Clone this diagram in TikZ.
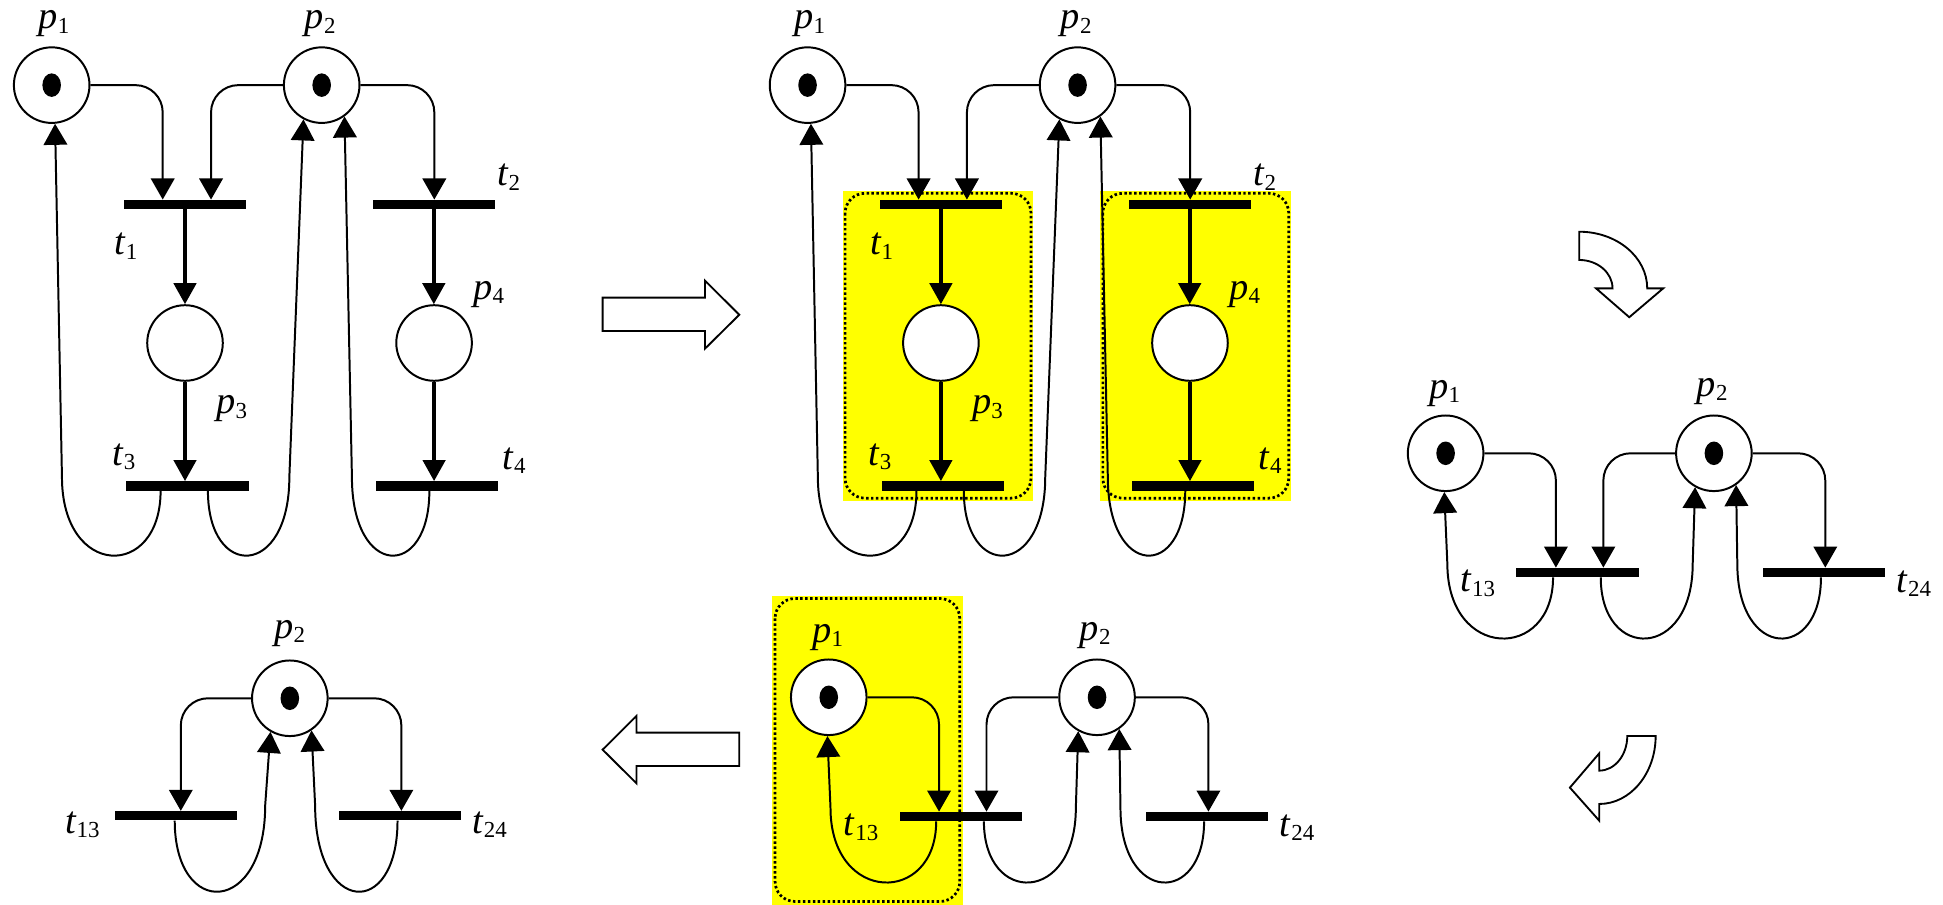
\documentclass[tikz,border=0pt]{standalone}
\usepackage{fontspec}
\setmainfont{Liberation Serif}
\usetikzlibrary{arrows.meta,shapes.geometric}
\definecolor{hiyellow}{RGB}{255,255,0}

\newcommand\plab[2]{{\fontsize{31}{31}\selectfont\textit{#1}\raisebox{-3.5pt}{\fontsize{18.5}{18.5}\selectfont #2}}}

\tikzset{
  place/.style={circle, draw, line width=1.6pt, fill=white, minimum size=61pt, inner sep=0pt},
  tokendot/.style={ellipse, fill=black, minimum width=15pt, minimum height=19pt, inner sep=0pt},
  bar/.style={rectangle, fill=black, minimum width=98.5pt, minimum height=7.5pt, inner sep=0pt},
  flow/.style={line width=1.6pt, -{Triangle[length=17pt,width=19pt]}},
  heavyflow/.style={line width=3pt, -{Triangle[length=17pt,width=18pt]}},
  lbl/.style={inner sep=0pt},
  hilite/.style={fill=hiyellow},
  dotborder/.style={draw=black, line width=2.2pt, dash pattern=on 2pt off 2pt, rounded corners=16pt},
  blockarrow/.style={draw, line width=1.5pt, fill=white, line join=miter}
}

% net with four places (left top and middle top)
\newcommand\netA[1]{%
  \node[place] (#1p1) at (41.7,68.7) {};
  \node[place] (#1p2) at (259.6,68.7) {};
  \node[tokendot] (#1k1) at (#1p1) {};
  \node[tokendot] (#1k2) at (#1p2) {};
  \node[bar] (#1t1) at (149.3,165) {};
  \node[bar] (#1t2) at (350.1,165) {};
  \node[place] (#1p3) at (149.3,276.8) {};
  \node[place] (#1p4) at (350.3,276.8) {};
  \node[bar] (#1t3) at (151.3,392.2) {};
  \node[bar] (#1t4) at (352.5,392.2) {};
  \node[lbl] (#1lp1) at (43.5,19.4) {\plab{p}{1}};
  \node[lbl] (#1lp2) at (258.5,19.4) {\plab{p}{2}};
  \node[lbl] (#1lt1) at (101.5,198.6) {\plab{t}{1}};
  \node[lbl] (#1lp3) at (187,330) {\plab{p}{3}};
  \node[lbl] (#1lt3) at (100,368.8) {\plab{t}{3}};
  \node[lbl] (#1lt2) at (410.5,143) {\plab{t}{2}};
  \node[lbl] (#1lp4) at (394.5,237.4) {\plab{p}{4}};
  \node[lbl] (#1lt4) at (415,372) {\plab{t}{4}};
  \draw[flow, rounded corners=22pt] (#1p1.east) -| ([xshift=-18pt]#1t1.north);
  \draw[flow, rounded corners=22pt] (#1p2.west) -| ([xshift=21pt]#1t1.north);
  \draw[flow, rounded corners=22pt] (#1p2.east) -| ([xshift=0.4pt]#1t2.north);
  \draw[heavyflow] (#1t1.south) -- (#1p3.north);
  \draw[heavyflow] (#1p3.south) -- (#1p3.south |- #1t3.north);
  \draw[heavyflow] (#1t2.south) -- (#1t2.south |- #1p4.north);
  \draw[heavyflow] (#1p4.south) -- (#1p4.south |- #1t4.north);
  \draw[flow] ([xshift=-21.7pt]#1t3.south) .. controls +(0,72) and +(0,82) .. (50,385) -- (#1p1.-85);
  \draw[flow] ([xshift=16.5pt]#1t3.south) .. controls +(0,72) and +(0,82) .. (233.5,385) -- (#1p2.-118);
  \draw[flow] ([xshift=-6pt]#1t4.south) .. controls +(0,72) and +(0,82) .. (284,385) -- (#1p2.-54);
}

% net with two transitions (right and bottom middle)
\newcommand\netB[1]{%
  \node[place] (#1p1) at (1166.6,365.8) {};
  \node[place] (#1p2) at (1383.1,365.8) {};
  \node[tokendot] (#1k1) at (#1p1) {};
  \node[tokendot] (#1k2) at (#1p2) {};
  \node[bar] (#1t13) at (1273,462) {};
  \node[bar] (#1t24) at (1472,462) {};
  \node[lbl] (#1lp1) at (1165.8,317.4) {\plab{p}{1}};
  \node[lbl] (#1lp2) at (1381.7,316) {\plab{p}{2}};
  \node[lbl] (#1lt13) at (1192.7,470.8) {\plab{t}{13}};
  \node[lbl] (#1lt24) at (1544.5,470.8) {\plab{t}{24}};
  \draw[flow, rounded corners=22pt] (#1p1.east) -| ([xshift=-17.4pt]#1t13.north);
  \draw[flow, rounded corners=22pt] (#1p2.west) -| ([xshift=20.9pt]#1t13.north);
  \draw[flow, rounded corners=22pt] (#1p2.east) -| ([xshift=1pt]#1t24.north);
  \draw[flow] ([xshift=-19.7pt]#1t13.south) .. controls +(0,68) and +(0,78) .. (1168,455) -- (#1p1.-92);
  \draw[flow] ([xshift=18.8pt]#1t13.south) .. controls +(0,68) and +(0,78) .. (1366,455) -- (#1p2.-119);
  \draw[flow] ([xshift=-2.5pt]#1t24.south) .. controls +(0,68) and +(0,78) .. (1402,455) -- (#1p2.-55);
}

\begin{document}
\begin{tikzpicture}[x=1pt, y=-1pt]
\useasboundingbox (0,0) rectangle (1568,730);

% highlights
\fill[hilite] (680,154) rectangle (834,404);
\draw[dotborder] (682,156) rectangle (832,402);
\fill[hilite] (888,154) rectangle (1042,404);
\draw[dotborder] (890,156) rectangle (1040,402);
\fill[hilite] (623,481) rectangle (777,730);
\draw[dotborder] (625.5,483) rectangle (774.5,727.5);

% top left net
\netA{L}
% top middle net
\begin{scope}[shift={(610,0)}]
\netA{M}
\end{scope}

% right net
\netB{R}
% bottom middle net
\begin{scope}[shift={(-497.8,196.9)}]
\netB{B}
\end{scope}

% bottom left net
\node[place] (Ep2) at (233.9,563.5) {};
\node[tokendot] (Ek2) at (Ep2) {};
\node[bar] (Et13) at (142,658.3) {};
\node[bar] (Et24) at (323.1,658.3) {};
\node[lbl] (Elp2) at (233.9,511) {\plab{p}{2}};
\node[lbl] (Elt13) at (66.5,665.7) {\plab{t}{13}};
\node[lbl] (Elt24) at (395.2,665.7) {\plab{t}{24}};
\draw[flow, rounded corners=22pt] (Ep2.west) -| ([xshift=3.9pt]Et13.north);
\draw[flow, rounded corners=22pt] (Ep2.east) -| ([xshift=0.8pt]Et24.north);
\draw[flow] ([xshift=-1pt]Et13.south) .. controls +(0,80) and +(0,89) .. (214,650) -- (Ep2.-120);
\draw[flow] ([xshift=-2.3pt]Et24.south) .. controls +(0,80) and +(0,89) .. (254.3,650) -- (Ep2.-56);

% block arrows
\draw[blockarrow] (486.3,240.2) -- (568.9,240.2) -- (568.9,226.5) -- (596.6,254) -- (568.9,281.4) -- (568.9,267.1) -- (486.3,267.1) -- cycle;
\draw[blockarrow] (596.6,591.2) -- (513.6,591.2) -- (513.6,577.8) -- (486.3,605) -- (513.6,632.1) -- (513.6,618.1) -- (596.6,618.1) -- cycle;
\draw[blockarrow] (1274.4,187) .. controls (1304.8,187) and (1329.3,207.5) .. (1329.3,232.7) -- (1342.2,232.7) -- (1314.8,256) -- (1288,232.7) -- (1301.3,232.7) .. controls (1301.3,220.1) and (1289.3,209.8) .. (1274.4,209.8) -- cycle;
\draw[blockarrow] (1313.2,593.9) -- (1336.1,593.9) .. controls (1336.1,624.2) and (1315.7,648.8) .. (1290.6,648.8) -- (1290.6,662.3) -- (1266.9,635.6) -- (1290.6,607.9) -- (1290.6,621.9) .. controls (1303.1,621.9) and (1313.2,609.4) .. (1313.2,593.9) -- cycle;
\end{tikzpicture}
\end{document}
